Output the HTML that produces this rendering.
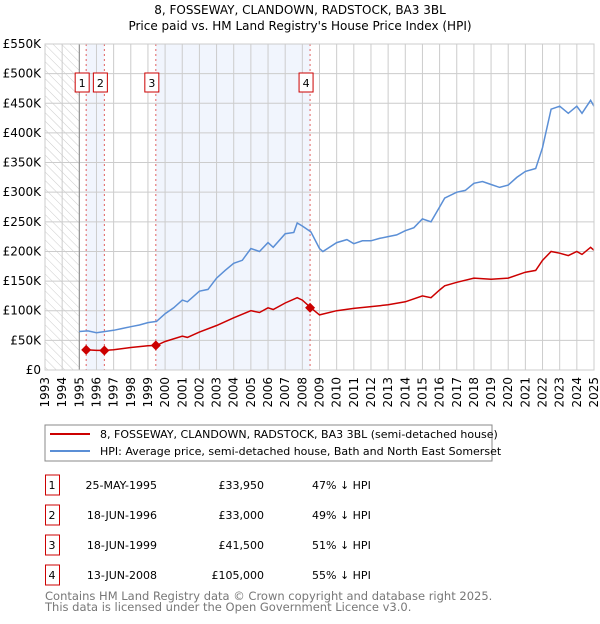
<!DOCTYPE html>
<html><head><meta charset="utf-8"><style>
body{margin:0;background:#fff;font-family:"DejaVu Sans","Liberation Sans",sans-serif;}
svg text{font-family:"DejaVu Sans","Liberation Sans",sans-serif;}
</style></head><body>
<svg id="c" width="600" height="620" xmlns="http://www.w3.org/2000/svg">
<defs><pattern id="hatch" width="6" height="6" patternUnits="userSpaceOnUse" patternTransform="rotate(-45)"><line x1="0" y1="0" x2="0" y2="6" stroke="#ccc" stroke-width="1"/></pattern></defs>
<text x="300" y="14" text-anchor="middle" font-size="12">8, FOSSEWAY, CLANDOWN, RADSTOCK, BA3 3BL</text>
<text x="300" y="30" text-anchor="middle" font-size="12">Price paid vs. HM Land Registry's House Price Index (HPI)</text>
<g id="plot"></g>
<rect x="45" y="425" width="447" height="36" fill="#fff" stroke="#888"/>
<line x1="50" y1="434" x2="90" y2="434" stroke="#cc0000" stroke-width="2"/>
<text x="100" y="438" font-size="11">8, FOSSEWAY, CLANDOWN, RADSTOCK, BA3 3BL (semi-detached house)</text>
<line x1="50" y1="451" x2="90" y2="451" stroke="#5b8fd6" stroke-width="2"/>
<text x="100" y="455" font-size="11">HPI: Average price, semi-detached house, Bath and North East Somerset</text>
<g id="table" font-size="11"></g>
<text x="45" y="600" font-size="11.5" fill="#777">Contains HM Land Registry data © Crown copyright and database right 2025.</text>
<text x="45" y="611" font-size="11.5" fill="#777">This data is licensed under the Open Government Licence v3.0.</text>
</svg>
<script>
const hpiYears=[1995,1995.5,1996,1996.5,1997,1997.5,1998,1998.5,1999,1999.5,2000,2000.5,2001,2001.3,2002,2002.5,2003,2003.5,2004,2004.5,2005,2005.5,2006,2006.3,2007,2007.5,2007.7,2008,2008.5,2009,2009.2,2010,2010.6,2011,2011.5,2012,2012.5,2013,2013.5,2014,2014.5,2015,2015.5,2016,2016.3,2017,2017.5,2018,2018.5,2019,2019.5,2020,2020.5,2021,2021.6,2022,2022.5,2023,2023.5,2024,2024.3,2024.8,2025];
const hpiValues=[65,66,63,65,67,70,73,76,80,82,95,105,118,115,133,136,155,168,180,185,205,200,215,207,230,232,248,243,233,205,200,215,220,213,218,218,222,225,228,235,240,255,250,275,290,300,303,315,318,313,308,312,325,335,340,375,440,445,433,445,433,455,445];
const redYears=[1995.4,1996,1996.5,1997,1998,1999,1999.5,2000,2001,2001.3,2002,2003,2004,2005,2005.5,2006,2006.3,2007,2007.7,2008,2008.5,2009,2010,2011,2012,2013,2014,2015,2015.5,2016,2016.3,2017,2018,2019,2020,2021,2021.6,2022,2022.5,2023,2023.5,2024,2024.3,2024.8,2025];
const redValues=[34,33,33,34,38,41,41.5,48,57,55,64,75,88,100,97,105,102,113,122,118,105,93,100,104,107,110,115,125,122,135,142,148,155,153,155,165,168,185,200,197,193,200,195,207,202];
const saleYears=[1995.4,1996.46,1999.46,2008.45];
const salePrices=[33.95,33,41.5,105];
const saleLabels=["1","2","3","4"];
const saleDates=["25-MAY-1995","18-JUN-1996","18-JUN-1999","13-JUN-2008"];
const salePriceText=["£33,950","£33,000","£41,500","£105,000"];
const salePct=["47% ↓ HPI","49% ↓ HPI","51% ↓ HPI","55% ↓ HPI"];
const yTicks=[0,50,100,150,200,250,300,350,400,450,500,550];
const yTickLabels=["£0","£50K","£100K","£150K","£200K","£250K","£300K","£350K","£400K","£450K","£500K","£550K"];
const xTicks=[1993,1994,1995,1996,1997,1998,1999,2000,2001,2002,2003,2004,2005,2006,2007,2008,2009,2010,2011,2012,2013,2014,2015,2016,2017,2018,2019,2020,2021,2022,2023,2024,2025];
const X0=45,X1=594,Y0=370,Y1=44;
const sx=v=>X0+(v-1993)/32*(X1-X0);
const sy=v=>Y0-v/550*(Y0-Y1);
const NS="http://www.w3.org/2000/svg";
const plot=document.getElementById('plot');
function mk(tag,attrs,parent){const e=document.createElementNS(NS,tag);for(const k in attrs)e.setAttribute(k,attrs[k]);(parent||plot).appendChild(e);return e;}
let e;
e=mk('rect',{x:X0,y:Y1,width:X1-X0,height:Y0-Y1,fill:'#fff'});


[[0,1],[2,3]].forEach((p,i)=>{e=mk('rect',{x:sx(saleYears[p[0]]),y:Y1,width:sx(saleYears[p[1]])-sx(saleYears[p[0]]),height:Y0-Y1,fill:'#eef3fc',opacity:0.8});

});
e=mk('rect',{x:X0,y:Y1,width:sx(1995)-X0,height:Y0-Y1,fill:'url(#hatch)'});


xTicks.forEach((t,i)=>{e=mk('line',{x1:sx(t),x2:sx(t),y1:Y1,y2:Y0,stroke:'#ccc','stroke-width':1});


const tx=mk('text',{x:0,y:0,'font-size':12,'text-anchor':'end',transform:`translate(${sx(t)+4},${Y0+7}) rotate(-90)`});tx.textContent=t;

});
yTicks.forEach((t,i)=>{e=mk('line',{x1:X0,x2:X1,y1:sy(t),y2:sy(t),stroke:'#ccc','stroke-width':1});


const tx=mk('text',{x:41,y:sy(t)+4,'font-size':12,'text-anchor':'end'});tx.textContent=yTickLabels[i];

});
e=mk('line',{x1:sx(1995),x2:sx(1995),y1:Y1,y2:Y0,stroke:'#888'});


saleYears.forEach((y,i)=>{e=mk('line',{x1:sx(y),x2:sx(y),y1:Y1,y2:Y0,stroke:'#e06060','stroke-dasharray':'2,3'});

});
e=mk('path',{d:hpiYears.map((y,i)=>(i?'L':'M')+sx(y).toFixed(1)+','+sy(hpiValues[i]).toFixed(1)).join(''),fill:'none',stroke:'#5b8fd6','stroke-width':1.5});


e=mk('path',{d:redYears.map((y,i)=>(i?'L':'M')+sx(y).toFixed(1)+','+sy(redValues[i]).toFixed(1)).join(''),fill:'none',stroke:'#cc0000','stroke-width':1.5});


saleYears.forEach((y,i)=>{const cx=sx(y),cy=sy(salePrices[i]);
e=mk('path',{d:`M${cx},${cy-5}L${cx+5},${cy}L${cx},${cy+5}L${cx-5},${cy}Z`,fill:'#cc0000'});


e=mk('rect',{x:cx-11,y:73,width:14,height:19,fill:'#fff',stroke:'#cc0000'});


const tx=mk('text',{x:cx-4,y:87,'font-size':11,'text-anchor':'middle'});tx.textContent=saleLabels[i];

});
e=mk('rect',{x:X0,y:Y1,width:X1-X0,height:Y0-Y1,fill:'none',stroke:'#ccc'});


const tb=document.getElementById('table');
saleLabels.forEach((l,i)=>{const cy=483+i*30;
e=mk('rect',{x:45.5,y:cy-8,width:14,height:20,fill:'#fff',stroke:'#cc0000'},tb);


const cols=[[52,'middle',l],[157,'end',saleDates[i]],[264,'end',salePriceText[i]],[312,'start',salePct[i]]];
cols.forEach(c=>{const t=mk('text',{x:c[0],y:cy+6,'text-anchor':c[1]},tb);t.textContent=c[2];

});});
</script>
</body></html>
